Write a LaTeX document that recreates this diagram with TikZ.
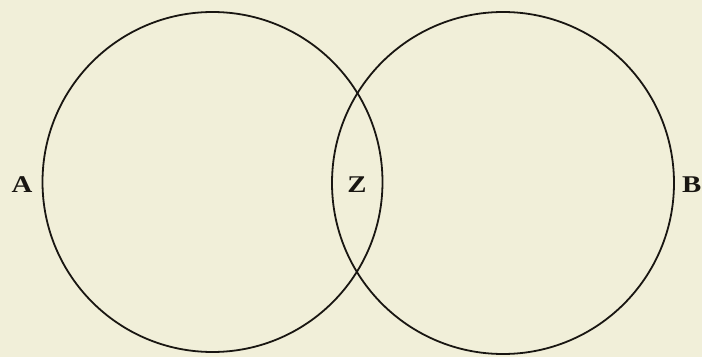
\documentclass[tikz,border=0pt]{standalone}
\usepackage{fontspec}
\setmainfont{Liberation Serif}
\newfontfamily\platefont[FakeStretch=1.2]{Liberation Serif}
\usepackage{xcolor}
\usepackage{tikz}
\usetikzlibrary{positioning}

\definecolor{paper}{RGB}{241,239,217}
\definecolor{ink}{RGB}{25,22,18}

\begin{document}
\begin{tikzpicture}[
    x=1pt, y=1pt,
    ring/.style={circle, draw=ink, line width=1.8pt, minimum size=#1, inner sep=0pt},
    letter/.style={font=\platefont\fontsize{24}{26}\selectfont\bfseries, text=ink, inner sep=0pt},
]

\fill[paper] (0, 0) rectangle (702, 357);
\useasboundingbox (0, 0) rectangle (702, 357);

\node[ring=340pt] (left) at (212.5, 175) {};
\node[ring=342pt] (right) at (503, 174) {};

\node[letter, left=9pt of left.west, yshift=-3pt] (a) {A};
\node[letter] (z) at (357, 172) {Z};
\node[letter, right=7pt of right.east, yshift=-2pt] (b) {B};

\end{tikzpicture}
\end{document}
